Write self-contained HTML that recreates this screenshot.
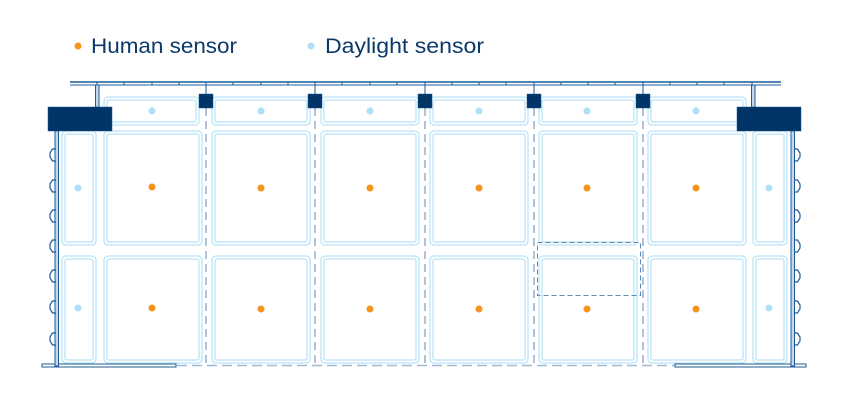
<!DOCTYPE html>
<html><head><meta charset="utf-8"><style>
html,body{margin:0;padding:0;background:#fff;width:850px;height:412px;overflow:hidden}
svg{display:block}
</style></head><body>
<svg width="850" height="412" viewBox="0 0 850 412" xmlns="http://www.w3.org/2000/svg">
<defs>
<g id="bump"><path d="M56 -6 L52.5 -6 L50 -2 L50 2 L52.5 6 L56 6" fill="none" stroke="#1d5b96" stroke-width="1.2"/></g>
</defs>
<!-- legend -->
<circle cx="78" cy="46" r="3.5" fill="#f7941d"/>
<text x="91" y="53" font-family="'Liberation Sans',sans-serif" font-size="21" fill="#0b3a6a" textLength="146" lengthAdjust="spacingAndGlyphs">Human sensor</text>
<circle cx="311" cy="46" r="3.5" fill="#aee0f8"/>
<text x="325" y="53" font-family="'Liberation Sans',sans-serif" font-size="21" fill="#0b3a6a" textLength="159" lengthAdjust="spacingAndGlyphs">Daylight sensor</text>

<!-- top rail -->
<line x1="70" y1="82" x2="781" y2="82" stroke="#1d5b96" stroke-width="1.5"/>
<line x1="70" y1="85" x2="781" y2="85" stroke="#1d5b96" stroke-width="1"/>
<g stroke="#1d5b96" stroke-width="1">
<line x1="97" y1="82" x2="97" y2="85"/><line x1="124" y1="82" x2="124" y2="85"/><line x1="152" y1="82" x2="152" y2="85"/><line x1="179" y1="82" x2="179" y2="85"/><line x1="206" y1="82" x2="206" y2="85"/><line x1="233" y1="82" x2="233" y2="85"/><line x1="261" y1="82" x2="261" y2="85"/><line x1="288" y1="82" x2="288" y2="85"/><line x1="315" y1="82" x2="315" y2="85"/><line x1="342" y1="82" x2="342" y2="85"/><line x1="370" y1="82" x2="370" y2="85"/><line x1="397" y1="82" x2="397" y2="85"/><line x1="425" y1="82" x2="425" y2="85"/><line x1="452" y1="82" x2="452" y2="85"/><line x1="479" y1="82" x2="479" y2="85"/><line x1="506" y1="82" x2="506" y2="85"/><line x1="534" y1="82" x2="534" y2="85"/><line x1="561" y1="82" x2="561" y2="85"/><line x1="588" y1="82" x2="588" y2="85"/><line x1="615" y1="82" x2="615" y2="85"/><line x1="643" y1="82" x2="643" y2="85"/><line x1="670" y1="82" x2="670" y2="85"/><line x1="697" y1="82" x2="697" y2="85"/><line x1="724" y1="82" x2="724" y2="85"/><line x1="752" y1="82" x2="752" y2="85"/>
<line x1="206" y1="85" x2="206" y2="94"/><line x1="315" y1="85" x2="315" y2="94"/><line x1="425" y1="85" x2="425" y2="94"/><line x1="534" y1="85" x2="534" y2="94"/><line x1="643" y1="85" x2="643" y2="94"/>
</g>
<!-- posts -->
<rect x="95.5" y="85" width="3.5" height="22" fill="#c7d8ea" stroke="#1d5b96" stroke-width="1"/>
<rect x="751.5" y="85" width="3.5" height="22" fill="#c7d8ea" stroke="#1d5b96" stroke-width="1"/>

<!-- panels -->
<g fill="none" stroke="#b9e4f7" stroke-width="1.3">
<rect x="104" y="97" width="95" height="28" rx="4"/><rect x="107" y="100" width="89" height="22" rx="2"/>
<rect x="212" y="97" width="98" height="28" rx="4"/><rect x="215" y="100" width="92" height="22" rx="2"/>
<rect x="321" y="97" width="98" height="28" rx="4"/><rect x="324" y="100" width="92" height="22" rx="2"/>
<rect x="430" y="97" width="98" height="28" rx="4"/><rect x="433" y="100" width="92" height="22" rx="2"/>
<rect x="539" y="97" width="98" height="28" rx="4"/><rect x="542" y="100" width="92" height="22" rx="2"/>
<rect x="648" y="97" width="98" height="28" rx="4"/><rect x="651" y="100" width="92" height="22" rx="2"/>
<rect x="104" y="131" width="98" height="114" rx="4"/><rect x="107" y="134" width="92" height="108" rx="2"/>
<rect x="212" y="131" width="98" height="114" rx="4"/><rect x="215" y="134" width="92" height="108" rx="2"/>
<rect x="321" y="131" width="98" height="114" rx="4"/><rect x="324" y="134" width="92" height="108" rx="2"/>
<rect x="430" y="131" width="98" height="114" rx="4"/><rect x="433" y="134" width="92" height="108" rx="2"/>
<rect x="539" y="131" width="98" height="114" rx="4"/><rect x="542" y="134" width="92" height="108" rx="2"/>
<rect x="648" y="131" width="98" height="114" rx="4"/><rect x="651" y="134" width="92" height="108" rx="2"/>
<rect x="104" y="256" width="98" height="107" rx="4"/><rect x="107" y="259" width="92" height="101" rx="2"/>
<rect x="212" y="256" width="98" height="107" rx="4"/><rect x="215" y="259" width="92" height="101" rx="2"/>
<rect x="321" y="256" width="98" height="107" rx="4"/><rect x="324" y="259" width="92" height="101" rx="2"/>
<rect x="430" y="256" width="98" height="107" rx="4"/><rect x="433" y="259" width="92" height="101" rx="2"/>
<rect x="539" y="256" width="98" height="107" rx="4"/><rect x="542" y="259" width="92" height="101" rx="2"/>
<rect x="648" y="256" width="98" height="107" rx="4"/><rect x="651" y="259" width="92" height="101" rx="2"/>
<rect x="62" y="131" width="34" height="114" rx="4"/><rect x="65" y="134" width="28" height="108" rx="2"/>
<rect x="62" y="256" width="34" height="107" rx="4"/><rect x="65" y="259" width="28" height="101" rx="2"/>
<rect x="753" y="131" width="34" height="114" rx="4"/><rect x="756" y="134" width="28" height="108" rx="2"/>
<rect x="753" y="256" width="34" height="107" rx="4"/><rect x="756" y="259" width="28" height="101" rx="2"/>
</g>

<g stroke="#5d87b5" stroke-width="1" stroke-dasharray="8,5">
<line x1="206" y1="108" x2="206" y2="365"/><line x1="315" y1="108" x2="315" y2="365"/><line x1="425" y1="108" x2="425" y2="365"/><line x1="534" y1="108" x2="534" y2="365"/><line x1="643" y1="108" x2="643" y2="365"/>
</g>
<rect x="537.5" y="242.5" width="103" height="53" fill="none" stroke="#5d87b5" stroke-width="1" stroke-dasharray="5,3"/>

<line x1="42" y1="365.5" x2="805" y2="365.5" stroke="#9fb8d4" stroke-width="1.5" stroke-dasharray="10,5"/>
<rect x="42" y="364" width="134" height="3" fill="#fff" stroke="#1d5b96" stroke-width="1"/>
<rect x="675" y="364" width="131" height="3" fill="#fff" stroke="#1d5b96" stroke-width="1"/>

<rect x="55" y="131" width="3.5" height="235" fill="#c7d8ea" stroke="#1d5b96" stroke-width="1"/>
<rect x="791" y="131" width="3.5" height="235" fill="#c7d8ea" stroke="#1d5b96" stroke-width="1"/>
<g transform="translate(0,155)"><use href="#bump"/></g>
<g transform="translate(0,186)"><use href="#bump"/></g>
<g transform="translate(0,216)"><use href="#bump"/></g>
<g transform="translate(0,246)"><use href="#bump"/></g>
<g transform="translate(0,276)"><use href="#bump"/></g>
<g transform="translate(0,307)"><use href="#bump"/></g>
<g transform="translate(0,339)"><use href="#bump"/></g>
<g transform="translate(850,0) scale(-1,1)">
<g transform="translate(0,155)"><use href="#bump"/></g>
<g transform="translate(0,186)"><use href="#bump"/></g>
<g transform="translate(0,216)"><use href="#bump"/></g>
<g transform="translate(0,246)"><use href="#bump"/></g>
<g transform="translate(0,276)"><use href="#bump"/></g>
<g transform="translate(0,307)"><use href="#bump"/></g>
<g transform="translate(0,339)"><use href="#bump"/></g>
</g>

<rect x="48" y="107" width="64" height="24" fill="#003466" stroke="#1d5b96" stroke-width="0.5"/>
<rect x="737" y="107" width="64" height="24" fill="#003466" stroke="#1d5b96" stroke-width="0.5"/>
<g fill="#003466" stroke="#1d5b96" stroke-width="0.5">
<rect x="199" y="94" width="14" height="14"/><rect x="308" y="94" width="14" height="14"/><rect x="418" y="94" width="14" height="14"/><rect x="527" y="94" width="14" height="14"/><rect x="636" y="94" width="14" height="14"/>
</g>

<g fill="#aee0f8">
<circle cx="152" cy="111" r="3.5"/><circle cx="261" cy="111" r="3.5"/><circle cx="370" cy="111" r="3.5"/><circle cx="479" cy="111" r="3.5"/><circle cx="587" cy="111" r="3.5"/><circle cx="696" cy="111" r="3.5"/>
<circle cx="78" cy="188" r="3.5"/><circle cx="769" cy="188" r="3.5"/><circle cx="78" cy="308" r="3.5"/><circle cx="769" cy="308" r="3.5"/>
</g>
<g fill="#f7941d">
<circle cx="152" cy="187" r="3.5"/><circle cx="261" cy="188" r="3.5"/><circle cx="370" cy="188" r="3.5"/><circle cx="479" cy="188" r="3.5"/><circle cx="587" cy="188" r="3.5"/><circle cx="696" cy="188" r="3.5"/>
<circle cx="152" cy="308" r="3.5"/><circle cx="261" cy="309" r="3.5"/><circle cx="370" cy="309" r="3.5"/><circle cx="479" cy="309" r="3.5"/><circle cx="587" cy="309" r="3.5"/><circle cx="696" cy="309" r="3.5"/>
</g>
</svg>
</body></html>
